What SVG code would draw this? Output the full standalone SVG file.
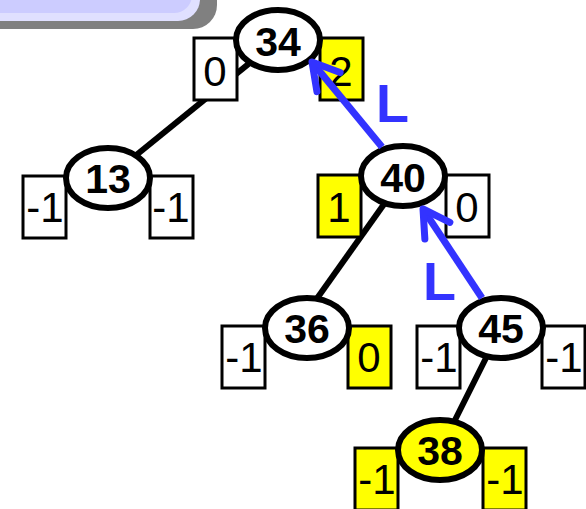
<svg xmlns="http://www.w3.org/2000/svg" width="586" height="509" viewBox="0 0 586 509">
<style>
.edge{stroke:#000;stroke-width:6;fill:none}
.bx{fill:#fff;stroke:#000;stroke-width:3}
.bx.y{fill:#ffff00}
.el{fill:#fff;stroke:#000;stroke-width:6}
.el.y{fill:#ffff00}
.bt{font-family:"Liberation Sans",Arial,sans-serif;font-size:42px;text-anchor:middle;fill:#000}
.nt{font-family:"Liberation Sans",Arial,sans-serif;font-size:41px;font-weight:bold;text-anchor:middle;fill:#000}
.arr{stroke:#3333ff;stroke-width:7;fill:none;stroke-linecap:butt}
.lab{font-family:"Liberation Sans",Arial,sans-serif;font-size:54px;font-weight:bold;fill:#3333ff}
</style>
<defs>
<marker id="ah" markerUnits="userSpaceOnUse" orient="auto" markerWidth="60" markerHeight="60" viewBox="-40 -30 60 60" refX="0" refY="0" overflow="visible">
<path d="M-26,-15 L0,0 L-26,15" fill="none" stroke="#3333ff" stroke-width="7" stroke-linecap="round" stroke-linejoin="round"/>
</marker>
</defs>
<g id="title-box">
<rect x="-30" y="-40" width="247" height="69" rx="24" fill="#808080"/>
<rect x="-30" y="-40" width="230" height="61" rx="22" fill="#e0e0ff"/>
<rect x="-30" y="-40" width="222" height="53" rx="18" fill="#ccccff"/>
</g>
<g id="connectors">
<line class="edge" x1="278" y1="40" x2="108" y2="178"/>
<line class="edge" x1="404" y1="176" x2="296" y2="328"/>
<line class="edge" x1="501" y1="328" x2="440" y2="450"/>
</g>
<g id="n34">
<rect class="bx" x="194" y="38" width="43" height="62"/><text class="bt" x="215" y="86">0</text>
<rect class="bx y" x="320" y="38" width="43" height="62"/><text class="bt" x="341" y="86">2</text>
<ellipse class="el" cx="278" cy="40" rx="42" ry="30"/><text class="nt" x="278" y="56">34</text>
</g>
<g id="n13">
<rect class="bx" x="23" y="176" width="43" height="62"/><text class="bt" x="45" y="222">-1</text>
<rect class="bx" x="150" y="176" width="43" height="62"/><text class="bt" x="171" y="222">-1</text>
<ellipse class="el" cx="108" cy="178" rx="42" ry="30"/><text class="nt" x="108" y="193">13</text>
</g>
<g id="n40">
<rect class="bx y" x="318" y="175" width="43" height="62"/><text class="bt" x="339" y="222">1</text>
<rect class="bx" x="446" y="175" width="43" height="62"/><text class="bt" x="467" y="222">0</text>
<ellipse class="el" cx="403" cy="176" rx="42" ry="30"/><text class="nt" x="403" y="192">40</text>
</g>
<g id="n36">
<rect class="bx" x="222" y="326" width="43" height="62"/><text class="bt" x="244" y="372">-1</text>
<rect class="bx y" x="348" y="326" width="43" height="62"/><text class="bt" x="369" y="372">0</text>
<ellipse class="el" cx="307" cy="328" rx="42" ry="30"/><text class="nt" x="307" y="343">36</text>
</g>
<g id="n45">
<rect class="bx" x="417" y="326" width="43" height="62"/><text class="bt" x="439" y="372">-1</text>
<rect class="bx" x="542" y="326" width="43" height="62"/><text class="bt" x="564" y="372">-1</text>
<ellipse class="el" cx="501" cy="328" rx="42" ry="30"/><text class="nt" x="501" y="343">45</text>
</g>
<g id="n38">
<rect class="bx y" x="355" y="448" width="43" height="62"/><text class="bt" x="377" y="494">-1</text>
<rect class="bx y" x="483" y="448" width="43" height="62"/><text class="bt" x="505" y="494">-1</text>
<ellipse class="el y" cx="440" cy="450" rx="42" ry="30"/><text class="nt" x="440" y="465">38</text>
</g>
<g id="rotations">
<line class="arr" x1="382" y1="147" x2="312" y2="62" marker-end="url(#ah)"/>
<line class="arr" x1="482" y1="298" x2="423" y2="209" marker-end="url(#ah)"/>
<text class="lab" x="376" y="122">L</text>
<text class="lab" x="423" y="300">L</text>
</g>
</svg>
